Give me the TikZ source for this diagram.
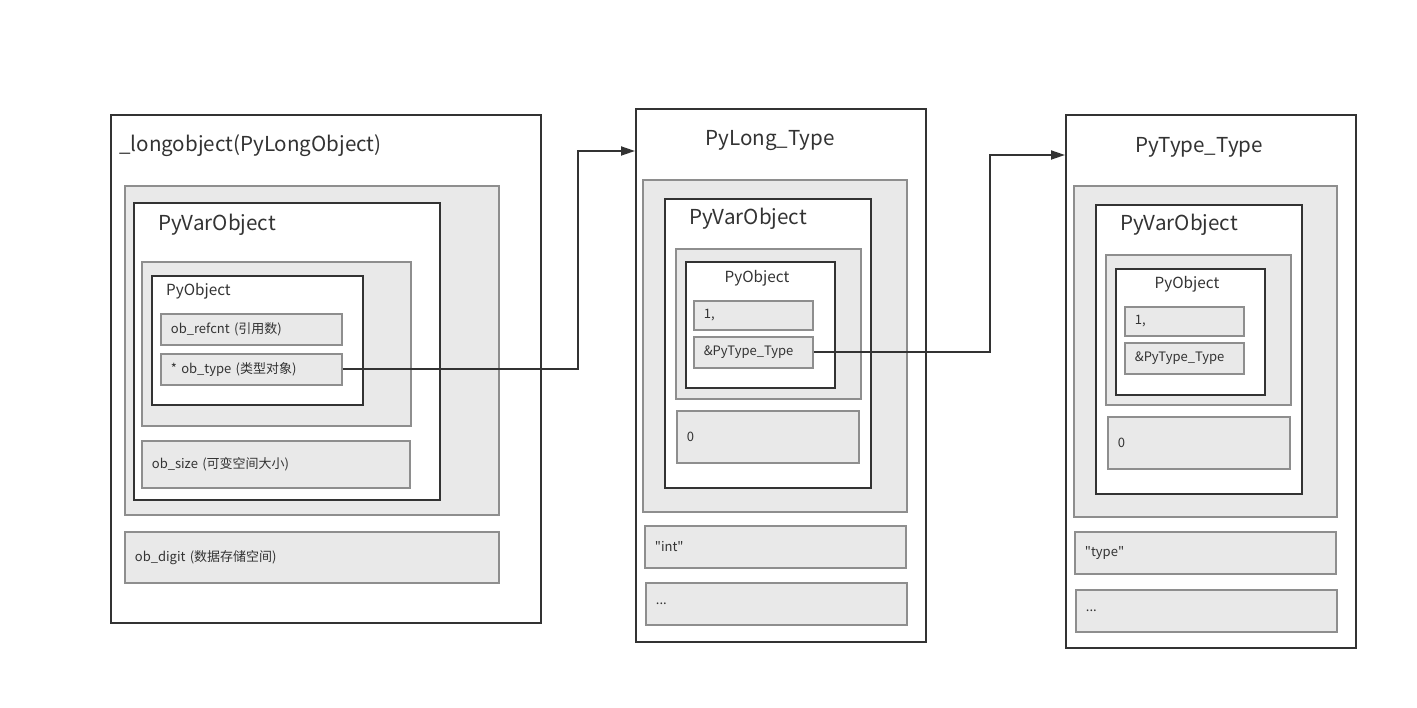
\documentclass[tikz,border=0pt]{standalone}
\usepackage{fontspec}
\setmainfont{Noto Sans CJK SC}[Ligatures=TeXOff]
\usetikzlibrary{arrows.meta}
\definecolor{ink}{HTML}{333333}
\definecolor{gfill}{HTML}{E9E9E9}
\definecolor{gline}{HTML}{8E8E8E}
\tikzset{
  blackbox/.style={draw=ink, line width=1.8pt, fill=white, anchor=north west, inner sep=0pt},
  graybox/.style={draw=gline, line width=1.8pt, fill=gfill, anchor=north west, inner sep=0pt},
  field/.style={draw=gline, line width=1.8pt, fill=gfill, anchor=north west, inner xsep=10pt, inner ysep=0pt, align=left, text=ink, font=\fontsize{13}{15}\selectfont},
  bigtitle/.style={text=ink, font=\fontsize{20.6}{24}\selectfont, inner sep=0pt},
  midtitle/.style={text=ink, font=\fontsize{20.6}{24}\selectfont, inner sep=0pt},
  smalltitle/.style={text=ink, font=\fontsize{15.3}{18}\selectfont, inner sep=0pt},
  conn/.style={draw=ink, line width=1.8pt, -{Triangle[length=14pt,width=9pt]}},
}
\begin{document}
\begin{tikzpicture}[x=1pt,y=-1pt]
\useasboundingbox (0,0) rectangle (1417,708);
% ---------- box 1 ----------
\node[blackbox, minimum width=430, minimum height=508] (A) at (110,114) {};
\node[bigtitle, anchor=west] (Atitle) at (119,146) {\_longobject(PyLongObject)};
\node[graybox, minimum width=374, minimum height=329] (Ag) at (124,185) {};
\node[blackbox, minimum width=306, minimum height=297] (Avar) at (133,202) {};
\node[midtitle, anchor=west] (Avart) at (158,225) {PyVarObject};
\node[graybox, minimum width=269, minimum height=164] (Ag2) at (141,261) {};
\node[blackbox, minimum width=211, minimum height=129] (Aobj) at (151,275) {};
\node[smalltitle, anchor=west] (Aobjt) at (166,291) {PyObject};
\node[field, text width=161, minimum height=31] (Aref) at (160,313) {ob\_refcnt (引用数)};
\node[field, text width=161, minimum height=31] (Atype) at (160,353) {* ob\_type (类型对象)};
\node[field, text width=248, minimum height=47] (Asize) at (141,440) {ob\_size (可变空间大小)};
\node[field, text width=354, minimum height=51] (Adigit) at (124,531) {ob\_digit (数据存储空间)};
% ---------- box 2 ----------
\node[blackbox, minimum width=290, minimum height=533] (B) at (635,108) {};
\node[bigtitle] (Btitle) at (770,141) {PyLong\_Type};
\node[graybox, minimum width=264, minimum height=332] (Bg) at (642,179) {};
\node[blackbox, minimum width=206, minimum height=289] (Bvar) at (664,198) {};
\node[midtitle, anchor=west] (Bvart) at (689,219) {PyVarObject};
\node[graybox, minimum width=185, minimum height=150] (Bg2) at (675,248) {};
\node[blackbox, minimum width=149, minimum height=126] (Bobj) at (685,261) {};
\node[smalltitle] (Bobjt) at (757,278) {PyObject};
\node[field, text width=99, minimum height=29] (Bref) at (693,300) {1,};
\node[field, text width=99, minimum height=31] (Btype) at (693,336) {\&PyType\_Type};
\node[field, text width=162, minimum height=52] (Bsize) at (676,410) {0};
\node[field, text width=241, minimum height=42] (Bname) at (644,525) {"int"};
\node[field, text width=241, minimum height=42] (Bmore) at (645,582) {...};
% ---------- box 3 ----------
\node[blackbox, minimum width=290, minimum height=533] (C) at (1065,114) {};
\node[bigtitle] (Ctitle) at (1199,147) {PyType\_Type};
\node[graybox, minimum width=263, minimum height=331] (Cg) at (1073,185) {};
\node[blackbox, minimum width=206, minimum height=289] (Cvar) at (1095,204) {};
\node[midtitle, anchor=west] (Cvart) at (1120,225) {PyVarObject};
\node[graybox, minimum width=185, minimum height=150] (Cg2) at (1105,254) {};
\node[blackbox, minimum width=149, minimum height=126] (Cobj) at (1115,268) {};
\node[smalltitle] (Cobjt) at (1187,284) {PyObject};
\node[field, text width=99, minimum height=29] (Cref) at (1124,306) {1,};
\node[field, text width=99, minimum height=31] (Ctype) at (1124,342) {\&PyType\_Type};
\node[field, text width=162, minimum height=52] (Csize) at (1107,416) {0};
\node[field, text width=241, minimum height=42] (Cname) at (1074,531) {"type"};
\node[field, text width=241, minimum height=42] (Cmore) at (1075,589) {...};
% ---------- connectors ----------
\coordinate (k1) at (578,151);
\coordinate (k2) at (990,155);
\draw[conn] (Atype.east) -| (k1) -- (B.west |- k1);
\draw[conn] (Btype.east) -| (k2) -- (C.west |- k2);
\end{tikzpicture}
\end{document}
